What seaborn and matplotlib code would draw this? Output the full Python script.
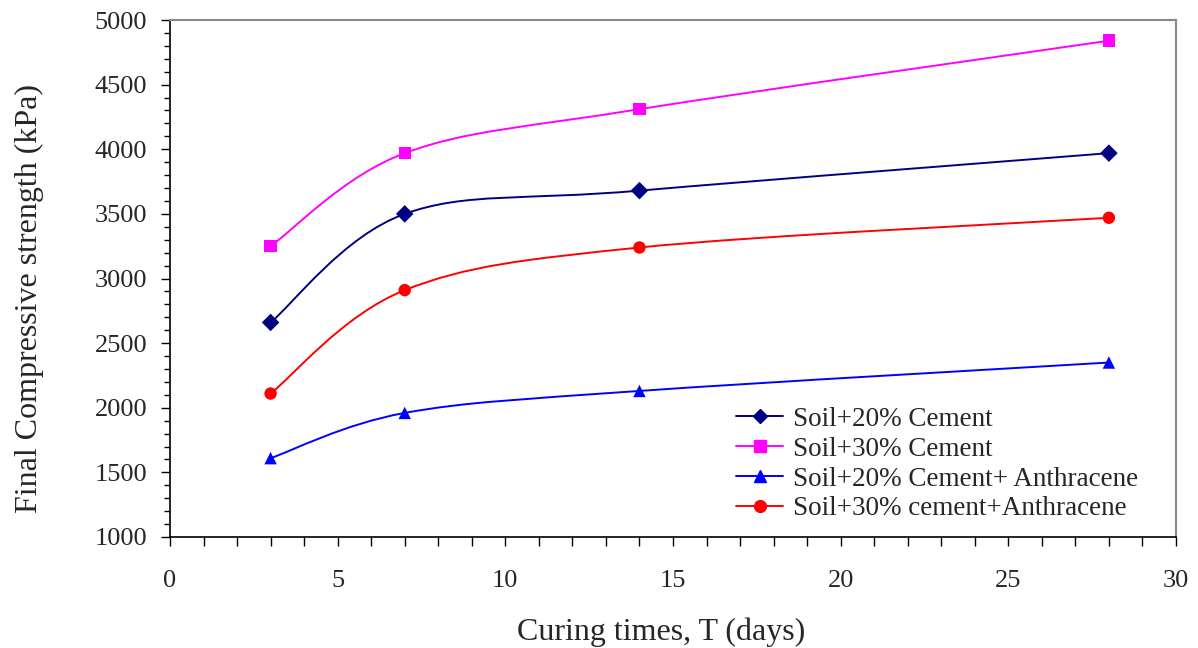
import numpy as np
import pandas as pd
import seaborn as sns
import matplotlib
matplotlib.use("Agg")
import matplotlib.pyplot as plt
from matplotlib.path import Path
from matplotlib.patches import PathPatch
from matplotlib.lines import Line2D
from matplotlib.ticker import MultipleLocator

# curing times (days)
days = [3, 7, 14, 28]

# final compressive strength (kPa)
soil20_cement = [2660, 3500, 3680, 3970]
soil30_cement = [3250, 3970, 4310, 4840]
soil20_anthracene = [1610, 1960, 2130, 2350]
soil30_anthracene = [2110, 2910, 3240, 3470]

labels = ["Soil+20% Cement", "Soil+30% Cement",
          "Soil+20% Cement+ Anthracene", "Soil+30% cement+Anthracene"]
series = [soil20_cement, soil30_cement, soil20_anthracene, soil30_anthracene]
colors = ["#000080", "#FF00FF", "#0000FF", "#FF0000"]
markers = ["D", "s", "^", "o"]
msizes = [7, 8, 9, 8.5]

sns.set_theme(style="white")
plt.rcParams['font.family'] = ['Liberation Serif', 'DejaVu Serif']

fig = plt.figure(figsize=(11.98, 6.48), dpi=100)
ax = fig.add_axes([0.1419, 0.1713, 0.8397, 0.7978])

frames = []
for lab, vals in zip(labels, series):
    frames.append(pd.DataFrame({"T": days, "S": vals, "mix": lab}))
df = pd.concat(frames, ignore_index=True)


# smoothed line like the spreadsheet's "smoothed line" option (cubic bezier segments)
def smooth_path(xs, ys, t=1 / 6):
    xs = np.asarray(xs, float)
    ys = np.asarray(ys, float)
    n = len(xs)
    verts = [(xs[0], ys[0])]
    codes = [Path.MOVETO]
    for i in range(n - 1):
        p0 = np.array([xs[max(i - 1, 0)], ys[max(i - 1, 0)]])
        p1 = np.array([xs[i], ys[i]])
        p2 = np.array([xs[i + 1], ys[i + 1]])
        p3 = np.array([xs[min(i + 2, n - 1)], ys[min(i + 2, n - 1)]])
        c1 = p1 + (p2 - p0) * t
        c2 = p2 - (p3 - p1) * t
        verts += [tuple(c1), tuple(c2), tuple(p2)]
        codes += [Path.CURVE4] * 3
    return Path(verts, codes)


for lab, col in zip(labels, colors):
    sub = df[df["mix"] == lab]
    ax.add_patch(PathPatch(smooth_path(sub["T"], sub["S"]), facecolor="none",
                           edgecolor=col, lw=1.4, zorder=2))

sns.scatterplot(data=df, x="T", y="S", hue="mix", style="mix",
                palette=dict(zip(labels, colors)),
                markers=dict(zip(labels, markers)),
                s=80, edgecolor="none", legend=False, ax=ax, zorder=3)

ax.set_xlim(0, 30)
ax.set_ylim(1000, 5000)
ax.xaxis.set_major_locator(MultipleLocator(5))
ax.xaxis.set_minor_locator(MultipleLocator(1))
ax.yaxis.set_major_locator(MultipleLocator(500))
ax.yaxis.set_minor_locator(MultipleLocator(100))
ax.tick_params(axis="both", which="both", direction="out", width=1,
               color="black", labelsize=19, bottom=True, left=True)
ax.tick_params(axis="x", which="both", length=6.5)
ax.tick_params(axis="x", which="major", pad=17)
ax.tick_params(axis="y", which="major", length=6.5, pad=10)
ax.tick_params(axis="y", which="minor", length=4.3)

for s in ["left", "bottom"]:
    ax.spines[s].set_color("black")
    ax.spines[s].set_linewidth(1.2)
for s in ["top", "right"]:
    ax.spines[s].set_color("#888888")
    ax.spines[s].set_linewidth(1.5)

ax.set_xlabel("Curing times, T (days)", fontsize=23, labelpad=18.5)
ax.set_ylabel("Final Compressive strength (kPa)", fontsize=23, labelpad=36)
ax.xaxis.label.set_x(0.488)
ax.yaxis.label.set_y(0.462)

handles = [Line2D([0], [0], color=c, lw=1.4, marker=m, markersize=ms,
                  markeredgecolor=c)
           for c, m, ms in zip(colors, markers, msizes)]
ax.legend(handles, labels, loc="lower left", bbox_to_anchor=(0.5626, 0.03),
          frameon=False, fontsize=19.5, handlelength=1.75, handletextpad=0.35,
          labelspacing=0.18, borderpad=0, borderaxespad=0)

fig.savefig("out.png", dpi=100)
